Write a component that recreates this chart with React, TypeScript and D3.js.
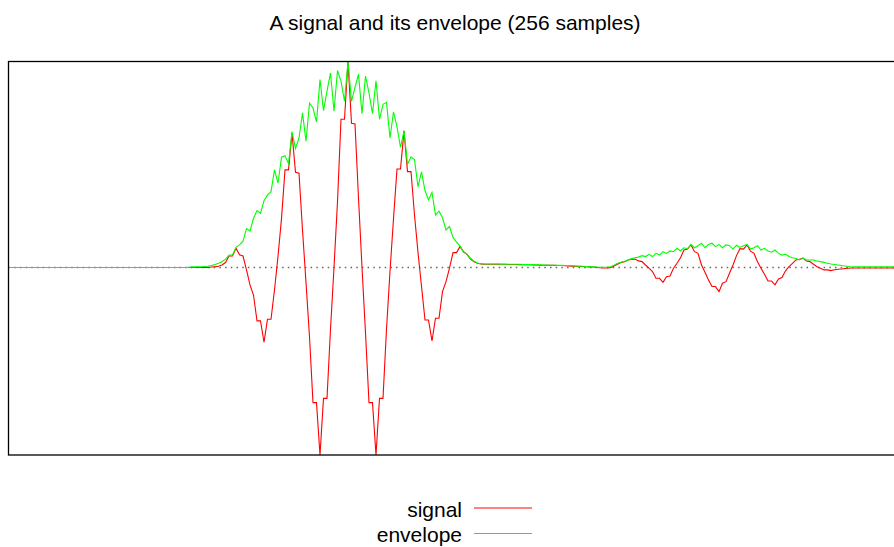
import React from "react";
import * as d3 from "d3";

const title = "A signal and its envelope (256 samples)";
const seriesNames = ["signal", "envelope"];
const seriesColors = ["#ff0000", "#00ff00"];

const signal: number[] = [
  0, 0, 0, 0, 0, 0, 0, 0, 0, 0, 0, 0, 0, 0, 0, 0,
  0, 0, 0, 0, 0, 0, 0, 0, 0, 0, 0, 0, 0, 0, 0, 0,
  0, 0, 0, 0, 0, 0, 0, 0, 0, 0, 0, 0, 0, 0, 0, 0,
  0, 0, 0, 0, 0, 0, 0, 0, 0, 0, 0.002, 0.004, 0.006, 0.013, 0.026, 0.061,
  0.061, 0.102, 0.067, 0.061, -0.013, -0.093, -0.147, -0.285, -0.285, -0.399, -0.276, -0.276, -0.12, 0.06, 0.26, 0.52,
  0.52, 0.716, 0.507, 0.502, 0.2, -0.08, -0.37, -0.721, -0.721, -1.0, -0.698, -0.698, -0.33, 0.0, 0.35, 0.79,
  0.79, 1.098, 0.769, 0.765, 0.37, 0.0, -0.35, -0.721, -0.721, -1.0, -0.698, -0.698, -0.33, -0.02, 0.26, 0.525,
  0.525, 0.728, 0.511, 0.511, 0.28, 0.08, -0.1, -0.28, -0.28, -0.392, -0.271, -0.271, -0.129, -0.076, -0.004, 0.079,
  0.079, 0.111, 0.084, 0.07, 0.045, 0.03, 0.022, 0.019, 0.017, 0.017, 0.017, 0.017, 0.017, 0.017, 0.017, 0.016,
  0.016, 0.016, 0.015, 0.015, 0.014, 0.014, 0.013, 0.013, 0.012, 0.012, 0.012, 0.011, 0.011, 0.01, 0.01, 0.009,
  0.008, 0.007, 0.006, 0.005, 0.005, 0.004, 0.003, 0.002, 0.0, -0.002, -0.003, -0.003, -0.001, 0.008, 0.017, 0.026,
  0.031, 0.04, 0.042, 0.045, 0.035, 0.031, 0.013, -0.004, -0.022, -0.058, -0.058, -0.079, -0.049, -0.046, -0.004, 0.022,
  0.052, 0.093, 0.098, 0.12, 0.084, 0.075, 0.013, -0.026, -0.067, -0.102, -0.102, -0.129, -0.084, -0.076, -0.031, 0.013,
  0.063, 0.1, 0.098, 0.12, 0.087, 0.075, 0.03, -0.004, -0.036, -0.072, -0.072, -0.093, -0.061, -0.054, -0.018, 0.004,
  0.022, 0.04, 0.044, 0.05, 0.034, 0.031, 0.017, 0.004, -0.004, -0.013, -0.013, -0.017, -0.012, -0.01, -0.008, -0.006,
  -0.004, -0.003, -0.003, -0.003, -0.003, -0.003, -0.003, -0.003, -0.003, -0.003, -0.003, -0.003, -0.003, -0.003, -0.003, -0.003,
];

const envelope: number[] = [
  0, 0, 0, 0, 0, 0, 0, 0, 0, 0, 0, 0, 0, 0, 0, 0,
  0, 0, 0, 0, 0, 0, 0, 0, 0, 0, 0, 0, 0, 0, 0, 0,
  0, 0, 0, 0, 0, 0, 0, 0, 0, 0, 0, 0, 0, 0, 0, 0,
  0, 0, 0, 0, 0.002, 0.003, 0.004, 0.004, 0.005, 0.006, 0.01, 0.015, 0.022, 0.03, 0.044, 0.065,
  0.067, 0.107, 0.12, 0.14, 0.207, 0.194, 0.262, 0.303, 0.289, 0.356, 0.387, 0.404, 0.52, 0.449, 0.588, 0.596,
  0.553, 0.724, 0.634, 0.69, 0.824, 0.673, 0.877, 0.85, 0.776, 1.002, 0.836, 0.94, 1.037, 0.833, 1.05, 0.993,
  0.886, 1.098, 0.886, 0.96, 1.03, 0.82, 1.02, 0.93, 0.82, 0.995, 0.79, 0.87, 0.88, 0.69, 0.83, 0.75,
  0.64, 0.73, 0.55, 0.59, 0.575, 0.43, 0.51, 0.41, 0.36, 0.4, 0.28, 0.3, 0.265, 0.2, 0.218, 0.16,
  0.135, 0.115, 0.08, 0.071, 0.049, 0.033, 0.024, 0.02, 0.018, 0.018, 0.018, 0.018, 0.018, 0.017, 0.017, 0.017,
  0.017, 0.017, 0.017, 0.016, 0.016, 0.015, 0.015, 0.014, 0.014, 0.013, 0.013, 0.012, 0.012, 0.011, 0.011, 0.01,
  0.01, 0.009, 0.008, 0.007, 0.006, 0.005, 0.004, 0.003, 0.002, 0.001, 0.001, 0.002, 0.004, 0.012, 0.022, 0.028,
  0.033, 0.04, 0.047, 0.052, 0.055, 0.063, 0.058, 0.07, 0.058, 0.075, 0.066, 0.084, 0.075, 0.088, 0.084, 0.102,
  0.088, 0.105, 0.1, 0.123, 0.105, 0.116, 0.129, 0.105, 0.123, 0.129, 0.111, 0.123, 0.105, 0.12, 0.116, 0.098,
  0.118, 0.107, 0.116, 0.123, 0.098, 0.105, 0.116, 0.093, 0.102, 0.088, 0.081, 0.093, 0.075, 0.066, 0.07, 0.058,
  0.052, 0.048, 0.04, 0.05, 0.04, 0.04, 0.04, 0.034, 0.031, 0.027, 0.022, 0.018, 0.016, 0.013, 0.01, 0.008,
  0.005, 0.002, 0.003, 0.003, 0.003, 0.003, 0.003, 0.003, 0.003, 0.003, 0.003, 0.003, 0.003, 0.003, 0.003, 0.003,
];

const W = 894;
const H = 547;
const plot = { left: 8.5, right: 901, top: 61.5, bottom: 455 };
const FONT = "'Liberation Sans', Arial, sans-serif";

export default function App() {
  const x = d3.scaleLinear().domain([0, signal.length - 1]).range([plot.left, plot.right]);
  const all = signal.concat(envelope);
  const [lo, hi] = d3.extent(all) as [number, number];
  const y = d3.scaleLinear().domain([lo, hi]).range([plot.bottom, plot.top]);
  const line = d3
    .line<number>()
    .x((_, i) => x(i))
    .y((d) => y(d));
  const series = [signal, envelope];

  return (
    <svg
      width={W}
      height={H}
      style={{ position: "absolute", left: 0, top: 0, background: "#fff" }}
      fontFamily={FONT}
    >
      <rect x={0} y={0} width={W} height={H} fill="#fff" />
      <text x={455} y={30} textAnchor="middle" fontSize={21} fill="#000">
        {title}
      </text>
      <line
        x1={plot.left}
        x2={plot.right}
        y1={y(0)}
        y2={y(0)}
        stroke="#666"
        strokeWidth={1.5}
        strokeDasharray="1.5 4.2"
      />
      {series.map((s, k) => (
        <path key={k} d={line(s) || ""} fill="none" stroke={seriesColors[k]} strokeWidth={1.1} strokeLinejoin="miter" />
      ))}
      <rect
        x={plot.left}
        y={plot.top}
        width={plot.right - plot.left}
        height={plot.bottom - plot.top}
        fill="none"
        stroke="#000"
        strokeWidth={1.3}
      />
      {seriesNames.map((n, k) => (
        <g key={n}>
          <text x={462} y={516.5 + k * 25} textAnchor="end" fontSize={21} fill="#000">
            {n}
          </text>
          <line x1={474} x2={532} y1={508 + k * 25.5} y2={508 + k * 25.5} stroke={seriesColors[k]} strokeWidth={1} />
        </g>
      ))}
    </svg>
  );
}
